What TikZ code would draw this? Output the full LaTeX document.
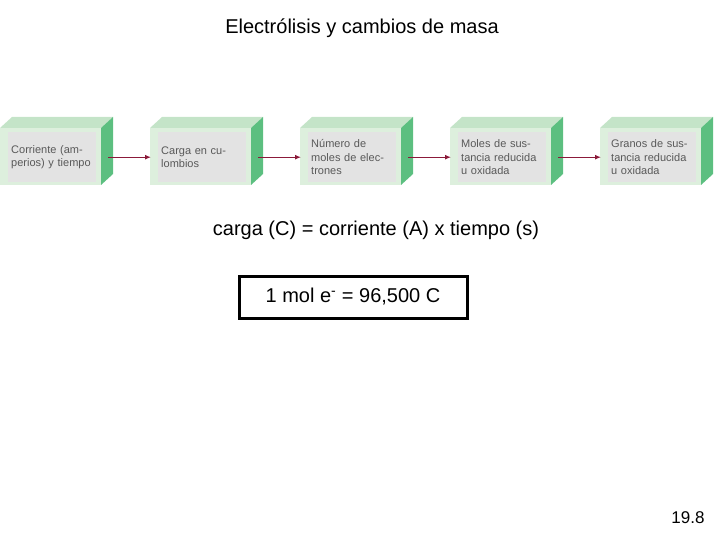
\documentclass[tikz,border=0pt]{standalone}
\usepackage{fontspec}
\setmainfont{Liberation Sans}
\usetikzlibrary{arrows.meta}
\definecolor{topc}{HTML}{C4E4C8}
\definecolor{frontc}{HTML}{DDEFDD}
\definecolor{sidec}{HTML}{5CBF80}
\definecolor{arrc}{HTML}{8B1A3A}
\begin{document}
\begin{tikzpicture}[x=1pt,y=-1pt,
  front/.style={fill=frontc},
  topf/.style={fill=topc},
  sidef/.style={fill=sidec},
  inner/.style={fill=gray!22,text=black!65,font=\fontsize{11}{13.5}\selectfont,align=left,anchor=north west,inner sep=3pt,text width=82pt,minimum height=50pt},
  conn/.style={draw=arrc,line width=1.3pt,-{Latex[length=6pt,width=5pt]}}]
\useasboundingbox (0,0) rectangle (720,540);
\node (title) at (362,28) {\fontsize{20}{22}\selectfont Electrólisis y cambios de masa};
\foreach \i/\t in {0/{Corriente (amperios) y tiempo},1/{Carga en culombios},2/{Número de moles de electrones},3/{Moles de sustancia reducida u oxidada},4/{Granos de sustancia reducida u oxidada}}{
  \pgfmathsetmacro\x{\i*150}
  \fill[topf] (\x,128) -- (\x+12,117) -- (\x+113,117) -- (\x+101,128) -- cycle;
  \fill[sidef] (\x+101,128) -- (\x+113,117) -- (\x+113,174) -- (\x+101,185) -- cycle;
  \fill[front] (\x,128) rectangle (\x+101,185);
  \node[inner] (b\i) at (\x+8,132) {\hyphenpenalty=10000\raggedright \t};
}
\foreach \i/\j in {0/1,1/2,2/3,3/4}{
  \coordinate (s\i) at ([xshift=12pt]b\i.east);
  \coordinate (e\i) at ([xshift=-7pt]b\j.west);
  \draw[conn] (s\i) -- (e\i);
}
\node (eq) at (376,230) {\fontsize{20}{22}\selectfont carga (C) = corriente (A) x tiempo (s)};
\node[draw=black,line width=3pt,minimum width=228pt,minimum height=42pt] (mol) at (353,297) {\fontsize{20}{22}\selectfont 1 mol e\textsuperscript{-} = 96,500 C};
\node (num) at (688,518) {\fontsize{17}{19}\selectfont 19.8};
\end{tikzpicture}
\end{document}
